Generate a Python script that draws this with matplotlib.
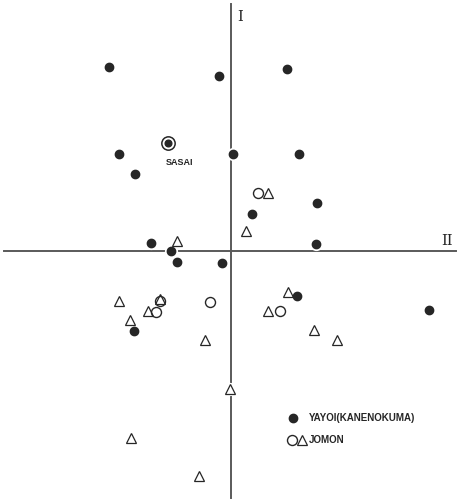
import matplotlib
matplotlib.use("Agg")
import matplotlib.pyplot as plt

# Component scores (axis I vertical, axis II horizontal), arbitrary units
yayoi_x = [-1.22, -0.12, 0.56, -1.12, 0.02, 0.68, -0.96, 0.86, 0.21, 0.85,
           -0.80, -0.60, -0.54, -0.09, 0.66, 1.98, -0.97]
yayoi_y = [1.84, 1.75, 1.82, 0.97, 0.97, 0.97, 0.77, 0.48, 0.37, 0.07,
           0.08, 0.00, -0.11, -0.12, -0.45, -0.59, -0.80]

sasai_x = [-0.63]
sasai_y = [1.08]

jomon_circle_x = [0.27, -0.71, -0.75, -0.21, 0.49]
jomon_circle_y = [0.58, -0.50, -0.61, -0.51, -0.60]

jomon_tri_x = [0.37, 0.15, -0.54, -1.12, -0.83, -1.01, -0.26, -0.71, 0.57,
               0.37, 0.83, 1.06, -0.01, -1.00, -0.32]
jomon_tri_y = [0.58, 0.20, 0.10, -0.50, -0.60, -0.69, -0.89, -0.48, -0.41,
               -0.60, -0.79, -0.89, -1.38, -1.87, -2.25]

INK = "#262626"
LINE = "#5a5a5a"

fig = plt.figure(figsize=(4.57, 5.0), dpi=100)
ax = fig.add_axes([0, 0, 1, 1])
ax.set_xlim(-2.307, 2.263)
ax.set_ylim(-2.493, 2.507)
ax.axis("off")

# axes lines
ax.plot([-2.27, 2.25], [0, 0], color=LINE, lw=1.4, zorder=1)
ax.plot([0, 0], [-2.47, 2.47], color=LINE, lw=1.4, zorder=1)

# white halos (create gaps where marks sit on the axis lines)
all_x = yayoi_x + sasai_x + jomon_circle_x + jomon_tri_x
all_y = yayoi_y + sasai_y + jomon_circle_y + jomon_tri_y
ax.plot(all_x, all_y, 'o', ms=9.5, mfc='white', mec='none', zorder=2)

ax.plot(yayoi_x, yayoi_y, 'o', ms=6.0, mfc=INK, mec=INK, zorder=3)
ax.plot(sasai_x, sasai_y, 'o', ms=9.6, mfc='white', mec=INK, mew=1.1, zorder=3)
ax.plot(sasai_x, sasai_y, 'o', ms=4.8, mfc=INK, mec=INK, zorder=4)
ax.plot(jomon_circle_x, jomon_circle_y, 'o', ms=7.2, mfc='none', mec=INK,
        mew=1.0, zorder=3)
ax.plot(jomon_tri_x, jomon_tri_y, '^', ms=6.8, mfc='none', mec=INK,
        mew=0.9, zorder=3)

# labels
tf = fig.transFigure
ax.text(240.5 / 457, 1 - 17 / 500, "I", transform=tf, family="DejaVu Serif",
        fontsize=10.5, color=INK, ha="center", va="center")
ax.text(447 / 457, 1 - 241 / 500, "II", transform=tf, family="DejaVu Serif",
        fontsize=10.5, color=INK, ha="center", va="center")
ax.text(180 / 457, 1 - 162 / 500, "SASAI", transform=tf, family="Liberation Sans",
        fontweight="bold", fontsize=6.5, color=INK, ha="center", va="center")

# legend
ax.plot([293 / 457], [1 - 418 / 500], 'o', transform=tf, ms=6.0, mfc=INK, mec=INK)
ax.text(309 / 457, 1 - 418 / 500, "YAYOI(KANENOKUMA)", transform=tf,
        family="Liberation Sans", fontweight="bold", fontsize=7.0, color=INK,
        ha="left", va="center")
ax.plot([291.5 / 457], [1 - 440 / 500], 'o', transform=tf, ms=7.2, mfc='none',
        mec=INK, mew=1.0)
ax.plot([301.5 / 457], [1 - 440 / 500], '^', transform=tf, ms=6.8, mfc='none',
        mec=INK, mew=0.9)
ax.text(309 / 457, 1 - 440 / 500, "JOMON", transform=tf,
        family="Liberation Sans", fontweight="bold", fontsize=7.0, color=INK,
        ha="left", va="center")

fig.savefig("out.png", dpi=100)
